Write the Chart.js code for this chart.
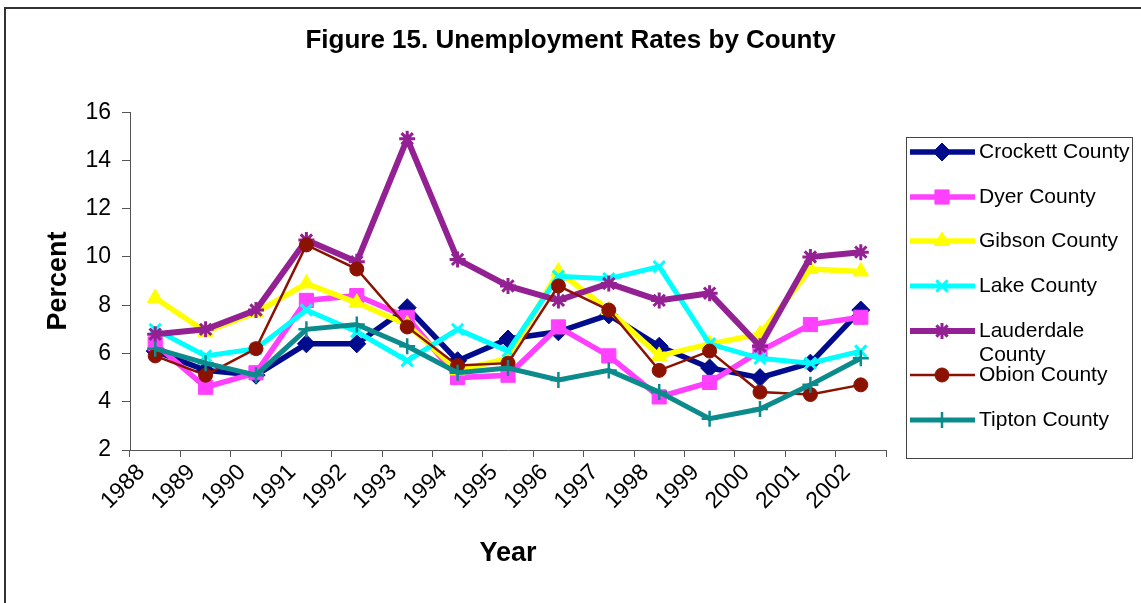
<!DOCTYPE html>
<html>
<head>
<meta charset="utf-8">
<script src="https://cdn.jsdelivr.net/npm/chart.js"></script>
<style>
  body { margin: 0; background: #fff; }
  #wrap { width: 1141px; height: 603px; }
</style>
</head>
<body>
<div id="wrap"><canvas id="unemp"></canvas></div>
<script>
const years = ['1988','1989','1990','1991','1992','1993','1994','1995','1996','1997','1998','1999','2000','2001','2002'];

const crockett   = [6.1, 5.3, 5.1, 6.4, 6.4, 7.9, 5.7, 6.6, 6.9, 7.6, 6.3, 5.4, 5.0, 5.6, 7.8];
const dyer       = [6.4, 4.6, 5.2, 8.2, 8.4, 7.5, 5.0, 5.1, 7.1, 5.9, 4.2, 4.8, 6.1, 7.2, 7.5];
const gibson     = [8.3, 6.9, 7.7, 8.9, 8.1, 7.2, 5.3, 5.8, 9.4, 7.8, 5.9, 6.4, 6.8, 9.5, 9.4];
const lake       = [7.0, 5.9, 6.2, 7.8, 6.9, 5.7, 7.0, 6.1, 9.2, 9.1, 9.6, 6.4, 5.8, 5.6, 6.1];
const lauderdale = [6.8, 7.0, 7.8, 10.7, 9.8, 14.9, 9.9, 8.8, 8.2, 8.9, 8.2, 8.5, 6.3, 10.0, 10.2];
const obion      = [5.9, 5.1, 6.2, 10.5, 9.5, 7.1, 5.5, 5.6, 8.8, 7.8, 5.3, 6.1, 4.4, 4.3, 4.7];
const tipton     = [6.2, 5.6, 5.1, 7.0, 7.2, 6.3, 5.2, 5.4, 4.9, 5.3, 4.4, 3.3, 3.7, 4.7, 5.8];

const font = 'Arial, "Liberation Sans", sans-serif';

function series(label, data, color, style, radius, lineW, markW, order) {
  return {
    label: label,
    data: data,
    borderColor: color,
    backgroundColor: color,
    borderWidth: lineW,
    pointStyle: style,
    pointRadius: radius,
    pointHoverRadius: radius,
    pointBackgroundColor: color,
    pointBorderColor: color,
    pointBorderWidth: markW,
    tension: 0,
    order: order
  };
}

// later series sit on top, like the original
const datasets = [
  series('Crockett County', crockett, '#000c8c', 'rectRot', 9, 5.5, 1, 6),
  series('Dyer County', dyer, '#ff40ff', 'rect', 10, 5.5, 1, 5),
  series('Gibson County', gibson, '#ffff00', 'triangle', 9, 5.5, 1, 4),
  series('Lake County', lake, '#00ffff', 'crossRot', 8, 5, 3, 3),
  series(['Lauderdale', 'County'], lauderdale, '#942193', 'star', 8, 6, 3, 2),
  series('Obion County', obion, '#8b1100', 'circle', 7, 2.5, 1, 1),
  series('Tipton County', tipton, '#0b8b8b', 'cross', 8, 5, 2.5, 0)
];

// frame round the whole picture, and a boxed legend on the right
const framePlugin = {
  id: 'frame',
  beforeDraw(chart) {
    const c = chart.ctx;
    c.save();
    c.fillStyle = '#fff';
    c.fillRect(0, 0, chart.width, chart.height);
    c.strokeStyle = '#333';
    c.lineWidth = 2;
    c.strokeRect(5, 8, 1300, 800);
    c.restore();
  },
  afterDraw(chart) {
    const c = chart.ctx;
    c.save();
    c.strokeStyle = '#444';
    c.lineWidth = 1;
    c.strokeRect(906.5, 137.5, 226, 321);
    const rows = [152, 197, 241, 286, 331, 375, 420];
    c.font = '21px ' + font;
    c.textBaseline = 'middle';
    chart.data.datasets.forEach((ds, i) => {
      const y = rows[i];
      c.strokeStyle = ds.borderColor;
      c.lineWidth = ds.borderWidth;
      c.beginPath();
      c.moveTo(910, y);
      c.lineTo(975, y);
      c.stroke();
      c.fillStyle = ds.pointBackgroundColor;
      c.strokeStyle = ds.pointBorderColor;
      c.lineWidth = ds.pointBorderWidth;
      if (Chart.helpers && Chart.helpers.drawPoint) {
        Chart.helpers.drawPoint(c, {
          pointStyle: ds.pointStyle,
          radius: ds.pointRadius,
          borderWidth: ds.pointBorderWidth,
          rotation: 0
        }, 942, y);
      }
      c.fillStyle = '#000';
      const lines = Array.isArray(ds.label) ? ds.label : [ds.label];
      lines.forEach((t, k) => c.fillText(t, 979, y + k * 24));
    });
    c.restore();
  }
};

new Chart(document.getElementById('unemp'), {
  type: 'line',
  data: { labels: years, datasets: datasets },
  options: {
    responsive: true,
    maintainAspectRatio: false,
    animation: false,
    layout: { padding: 0 },
    plugins: {
      legend: { display: false },
      tooltip: { enabled: false },
      title: {
        display: true,
        text: 'Figure 15. Unemployment Rates by County',
        color: '#000',
        font: { family: font, size: 26, weight: 'bold' },
        padding: { top: 25, bottom: 56 }
      }
    },
    scales: {
      x: {
        offset: true,
        afterFit(scale) { scale.height = 153; },
        grid: { display: true, drawOnChartArea: false, offset: true, tickLength: 7, color: '#555' },
        border: { color: '#555', width: 1 },
        ticks: {
          autoSkip: false,
          maxRotation: 45,
          minRotation: 45,
          labelOffset: -14,
          padding: 2,
          color: '#000',
          font: { family: font, size: 23 }
        },
        title: {
          display: true,
          text: 'Year',
          color: '#000',
          font: { family: font, size: 27, weight: 'bold' },
          padding: { top: 0, bottom: 33 }
        }
      },
      y: {
        min: 2,
        max: 16,
        afterFit(scale) { scale.width = 130; },
        grid: { display: true, drawOnChartArea: false, tickLength: 8, color: '#555' },
        border: { color: '#555', width: 1 },
        ticks: {
          stepSize: 2,
          padding: 11,
          color: '#000',
          font: { family: font, size: 23 }
        },
        title: {
          display: true,
          text: 'Percent',
          color: '#000',
          font: { family: font, size: 27, weight: 'bold' },
          padding: { top: 42, bottom: 0 }
        }
      },
      // empty axis that only keeps room for the legend box
      room: {
        type: 'linear',
        position: 'right',
        min: 2,
        max: 16,
        afterFit(scale) { scale.width = 255; },
        grid: { display: false },
        border: { display: false },
        ticks: { display: false },
        title: { display: false }
      }
    }
  },
  plugins: [framePlugin]
});
</script>
</body>
</html>
